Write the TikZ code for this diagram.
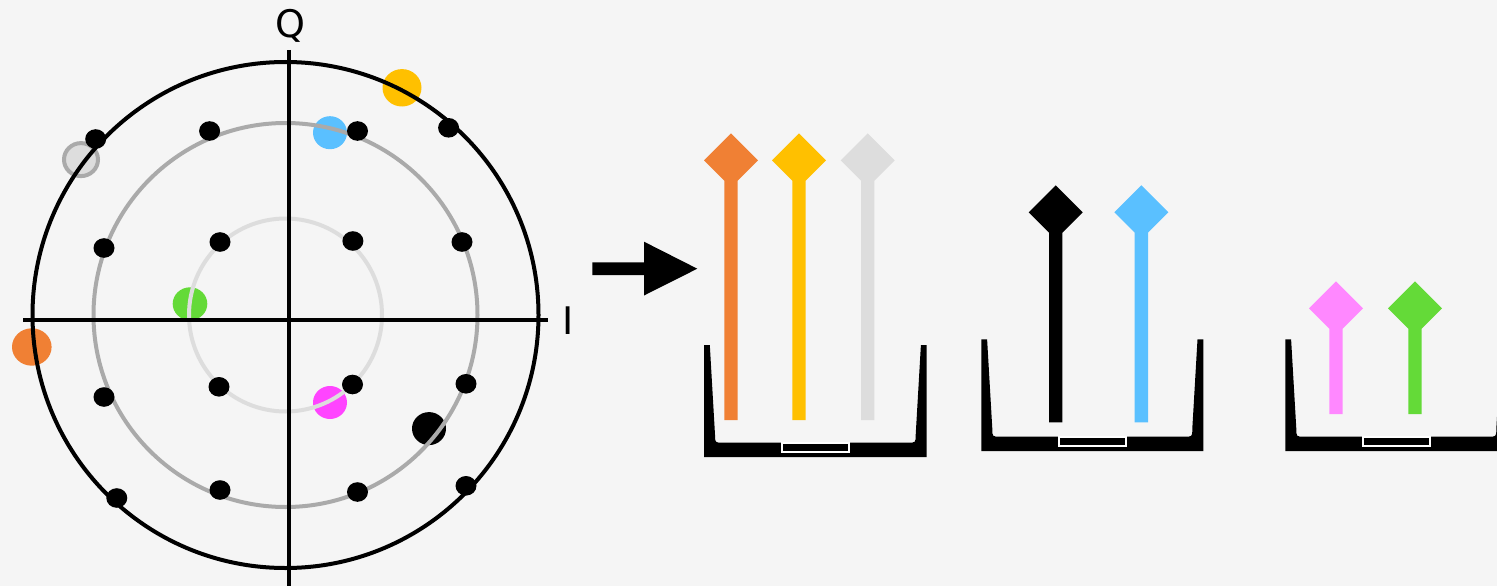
\documentclass[tikz,border=0pt]{standalone}
\usepackage{fontspec}
\setmainfont{DejaVu Sans}
\definecolor{bg}{HTML}{F5F5F5}
\definecolor{corange}{HTML}{F08034}
\definecolor{cyellow}{HTML}{FFC000}
\definecolor{clgray}{HTML}{DDDDDD}
\definecolor{cmgray}{HTML}{AAAAAA}
\definecolor{cblue}{HTML}{5AC0FF}
\definecolor{cmagenta}{HTML}{FF44FF}
\definecolor{cpink}{HTML}{FF88FF}
\definecolor{cgreen}{HTML}{64DA38}
\newcommand\pinmark[4]{%
  \fill[#4] (#1,{#2-27}) -- ({#1+27},#2) -- ({#1+6.7},{#2+20.3}) -- ({#1+6.7},#3)
    -- ({#1-6.7},#3) -- ({#1-6.7},{#2+20.3}) -- ({#1-27},#2) -- cycle;}
\newcommand\binshape[4]{%
  \fill[black] (#1,#3) -- (#1,{#4+14.5}) -- (#2,{#4+14.5}) -- (#2,#3) -- ({#2-5.8},#3)
    -- ({#2-11},{#4-8}) .. controls ({#2-11},#4) .. ({#2-19},#4)
    -- ({#1+19},#4) .. controls ({#1+11},#4) .. ({#1+11},{#4-8})
    -- ({#1+5.8},#3) -- cycle;
  \filldraw[fill=black,draw=white,line width=2pt] ({(#1+#2)/2-33.3},#4) rectangle ({(#1+#2)/2+33.3},{#4+9.6});}
\tikzset{
  ring/.style={line width=4pt},
  bdot/.style={fill=black},
}
\begin{document}
\begin{tikzpicture}[x=1pt,y=-1pt]
\fill[bg] (0,0) rectangle (1497,586);
\useasboundingbox (0,0) rectangle (1497,586);
\clip (0,0) rectangle (1497,586);
% received (coloured) points, beneath the rings
\fill[cyellow] (402,87.8) ellipse [x radius=19.5pt, y radius=18.7pt];
\fill[cblue] (330,132.7) ellipse [x radius=17pt, y radius=16.5pt];
\filldraw[fill=clgray,draw=cmgray,line width=4pt] (81,159.6) ellipse [x radius=17pt, y radius=16.5pt];
\fill[cgreen] (190,303.8) ellipse [x radius=17.3pt, y radius=16.5pt];
\fill[corange] (31.8,347) ellipse [x radius=19.8pt, y radius=18.7pt];
\fill[cmagenta] (330,402.5) ellipse [x radius=17pt, y radius=16.5pt];
\fill[black] (429,428.6) ellipse [x radius=17pt, y radius=16.5pt];
% rings
\coordinate (c) at (285.5,315);
\draw[ring,clgray] (c) circle [radius=96.5pt];
\draw[ring,cmgray] (c) circle [radius=192pt];
\draw[ring,black] (c) circle [radius=253pt];
% axes
\coordinate (il) at (23,320);
\coordinate (ir) at (548,320);
\coordinate (qt) at (289,50);
\coordinate (qb) at (289,590);
\draw[line width=4.5pt] (il) -- (ir);
\draw[line width=4.5pt] (qt) -- (qb);
\node[anchor=base,inner sep=0pt,font=\fontsize{38}{40}\selectfont] (qlab) at (290.5,37.4) {Q};
\node[anchor=base,inner sep=0pt,font=\fontsize{38}{40}\selectfont] (ilab) at (568,334) {I};
% constellation points
\foreach \x/\y in {95.7/139,209.6/131,357.5/131,448.6/127.8,
                   104/248,220/242,352.9/241,462/242,
                   104/397,219/386.8,352.5/384.5,466/383.8,
                   116.8/498,220/490,357.5/492,466/485.8}
  \fill[bdot] (\x,\y) ellipse [x radius=10.5pt, y radius=9.8pt];
% big arrow
\fill[black] (592.3,262.3) -- (644,262.3) -- (644,241.7) -- (697.3,268.7) -- (644,295.5)
  -- (644,275) -- (592.3,275) -- cycle;
% bins
\binshape{704}{926.7}{345}{442.7}
\binshape{981.3}{1203.3}{339.3}{436.7}
\binshape{1285.3}{1507.3}{339.3}{436.7}
% markers
\pinmark{731}{160.3}{420}{corange}
\pinmark{799}{160.3}{420}{cyellow}
\pinmark{867.7}{160.3}{420}{clgray}
\pinmark{1055.7}{212.3}{422.3}{black}
\pinmark{1141.3}{212.3}{422.3}{cblue}
\pinmark{1336}{308.3}{414}{cpink}
\pinmark{1415}{308.3}{414}{cgreen}
\end{tikzpicture}
\end{document}
